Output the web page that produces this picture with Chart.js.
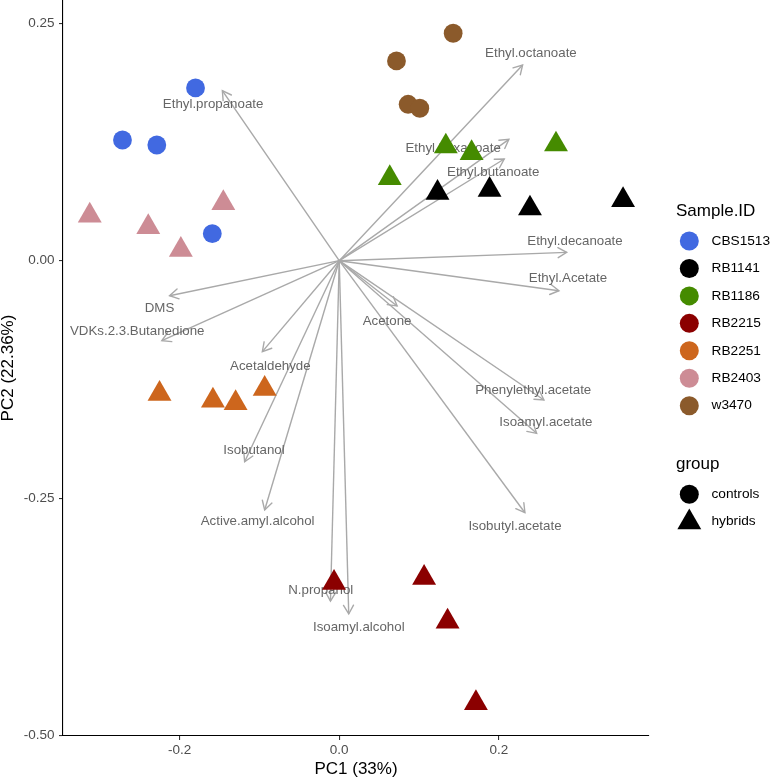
<!DOCTYPE html>
<html>
<head>
<meta charset="utf-8">
<script src="https://cdn.jsdelivr.net/npm/chart.js@4/dist/chart.umd.min.js"></script>
<style>
  body { margin: 0; background: #fff; }
  canvas { display: block; }
</style>
</head>
<body>
<canvas id="pcaChart" width="771" height="781"></canvas>
<script>
// PCA biplot of volatile compounds

// ----------------------------------
// Data
// ----------------------------------
const sampleIds = ["CBS1513", "RB1141", "RB1186", "RB2215", "RB2251", "RB2403", "w3470"];
const sampleGroup = ["controls", "hybrids", "hybrids", "hybrids", "hybrids", "hybrids", "controls"];
const groupNames = ["controls", "hybrids"];

const cbs1513PC1 = [-0.180, -0.2715, -0.2285, -0.159];
const cbs1513PC2 = [0.1819, 0.1271, 0.1218, 0.0284];
const rb1141PC1 = [0.1231, 0.1883, 0.2389, 0.3555];
const rb1141PC2 = [0.0715, 0.0747, 0.0550, 0.0638];
const rb1186PC1 = [0.1335, 0.1658, 0.2715, 0.0633];
const rb1186PC2 = [0.1203, 0.1133, 0.1224, 0.0870];
const rb2215PC1 = [-0.0065, 0.1063, 0.1357, 0.1712];
const rb2215PC2 = [-0.3392, -0.3339, -0.3800, -0.4659];
const rb2251PC1 = [-0.2251, -0.1582, -0.1298, -0.0934];
const rb2251PC2 = [-0.1402, -0.1472, -0.1500, -0.1349];
const rb2403PC1 = [-0.3125, -0.2392, -0.1984, -0.1452];
const rb2403PC2 = [0.0476, 0.0354, 0.0115, 0.0607];
const w3470PC1 = [0.1427, 0.0717, 0.0863, 0.1009];
const w3470PC2 = [0.2395, 0.2103, 0.1647, 0.1605];

const scoresPC1 = [cbs1513PC1, rb1141PC1, rb1186PC1, rb2215PC1, rb2251PC1, rb2403PC1, w3470PC1];
const scoresPC2 = [cbs1513PC2, rb1141PC2, rb1186PC2, rb2215PC2, rb2251PC2, rb2403PC2, w3470PC2];

const variableNames = [
  "Ethyl.propanoate", "DMS", "VDKs.2.3.Butanedione", "Acetaldehyde", "Isobutanol",
  "Active.amyl.alcohol", "N.propanol", "Isoamyl.alcohol", "Ethyl.octanoate", "Ethyl.hexanoate",
  "Ethyl.butanoate", "Ethyl.decanoate", "Ethyl.Acetate", "Acetone", "Phenylethyl.acetate",
  "Isoamyl.acetate", "Isobutyl.acetate"
];
const loadingPC1 = [-0.1464, -0.2125, -0.2222, -0.0963, -0.1185, -0.0934, -0.0110, 0.0119, 0.2297, 0.2125,
  0.2067, 0.2849, 0.2752, 0.0725, 0.2564, 0.2473, 0.2326];
const loadingPC2 = [0.1790, -0.0369, -0.0842, -0.0958, -0.2117, -0.2625, -0.3584, -0.3720, 0.2061, 0.1278,
  0.1071, 0.0088, -0.0316, -0.0477, -0.1467, -0.1818, -0.2654];
const labelPC1 = [-0.1580, -0.2251, -0.2530, -0.0863, -0.1068, -0.1022, -0.0232, 0.0245, 0.2401, 0.1427,
  0.1929, 0.2953, 0.2865, 0.0599, 0.2430, 0.2589, 0.2201];
const labelPC2 = [0.1650, -0.0501, -0.0740, -0.1109, -0.1993, -0.2741, -0.3468, -0.3865, 0.2184, 0.1184,
  0.0931, 0.0207, -0.0185, -0.0635, -0.1362, -0.1702, -0.2801];

const xTickValues = [-0.2, 0, 0.2];
const xTickLabels = ["-0.2", "0.0", "0.2"];
const yTickValues = [-0.5, -0.25, 0, 0.25];
const yTickLabels = ["-0.50", "-0.25", "0.00", "0.25"];

// ----------------------------------
// Styles
// ----------------------------------
const colors = ["#4169E1", "#000000", "#458B00", "#8B0000", "#CD661D", "#CD8C95", "#8B5A2B"];
const arrowColor = "#A9A9A9";
const fontFamily = "'Liberation Sans', Arial, Helvetica, sans-serif";
const circleRadius = 9.4;
const triangleRadius = 13.8;

const shapeFor = g => g === "controls" ? "circle" : "triangle";
const radiusFor = g => g === "controls" ? circleRadius : triangleRadius;

const pointSets = sampleIds.map((id, i) => ({
  label: id,
  data: scoresPC1[i].map((x, j) => ({ x, y: scoresPC2[i][j] })),
  pointStyle: shapeFor(sampleGroup[i]),
  pointRadius: radiusFor(sampleGroup[i]),
  backgroundColor: colors[i],
  borderWidth: 0,
  pointBorderWidth: 0,
  showLine: false,
  order: 0
}));

const arrowSets = variableNames.map((name, i) => ({
  label: name,
  data: [{ x: 0, y: 0 }, { x: loadingPC1[i], y: loadingPC2[i] }],
  showLine: true,
  borderColor: arrowColor,
  borderWidth: 1.4,
  pointRadius: 0,
  order: 1
}));

// arrow heads + variable labels, drawn right after the last arrow shaft
const biplotPlugin = {
  id: "biplot",
  afterDatasetDraw(chart, args) {
    if (args.index !== pointSets.length) return;
    const { ctx, scales: { x, y } } = chart;
    const ox = x.getPixelForValue(0), oy = y.getPixelForValue(0);
    ctx.save();
    ctx.strokeStyle = arrowColor;
    ctx.lineWidth = 1.4;
    ctx.lineCap = "round";
    variableNames.forEach((_, i) => {
      const tx = x.getPixelForValue(loadingPC1[i]);
      const ty = y.getPixelForValue(loadingPC2[i]);
      const ang = Math.atan2(ty - oy, tx - ox);
      const len = 10;
      ctx.beginPath();
      ctx.moveTo(tx - len * Math.cos(ang - Math.PI / 6), ty - len * Math.sin(ang - Math.PI / 6));
      ctx.lineTo(tx, ty);
      ctx.lineTo(tx - len * Math.cos(ang + Math.PI / 6), ty - len * Math.sin(ang + Math.PI / 6));
      ctx.stroke();
    });
    ctx.fillStyle = "#666666";
    ctx.font = "13.3px " + fontFamily;
    ctx.textAlign = "center";
    ctx.textBaseline = "middle";
    variableNames.forEach((name, i) => {
      ctx.fillText(name, x.getPixelForValue(labelPC1[i]), y.getPixelForValue(labelPC2[i]));
    });
    ctx.restore();
  },
  afterDraw(chart) {
    const { ctx } = chart;
    ctx.save();
    ctx.textBaseline = "middle";
    ctx.textAlign = "left";
    ctx.fillStyle = "#000";
    ctx.font = "17px " + fontFamily;
    ctx.fillText("Sample.ID", 676, 211);
    ctx.fillText("group", 676, 464);

    ctx.font = "13.7px " + fontFamily;
    sampleIds.forEach((id, i) => {
      const cy = 241 + i * 27.45;
      ctx.beginPath();
      ctx.fillStyle = colors[i];
      ctx.arc(689.3, cy, 9.5, 0, Math.PI * 2);
      ctx.fill();
      ctx.fillStyle = "#000";
      ctx.fillText(id, 711.5, cy);
    });
    groupNames.forEach((g, i) => {
      const cy = 494.3 + i * 28;
      ctx.fillStyle = "#000";
      ctx.beginPath();
      if (g === "controls") {
        ctx.arc(689.3, cy, 9.5, 0, Math.PI * 2);
      } else {
        const r = 13.8;
        ctx.moveTo(689.3, cy - r);
        ctx.lineTo(689.3 + r * Math.sin(2 * Math.PI / 3), cy + r / 2);
        ctx.lineTo(689.3 - r * Math.sin(2 * Math.PI / 3), cy + r / 2);
        ctx.closePath();
      }
      ctx.fill();
      ctx.fillText(g, 711.5, i === 0 ? cy : cy - 1);
    });
    ctx.restore();
  }
};

// ----------------------------------
// Chart
// ----------------------------------
const tickFont = { family: fontFamily, size: 13.5 };
const titleFont = { family: fontFamily, size: 17, lineHeight: 1 };

new Chart(document.getElementById("pcaChart"), {
  type: "scatter",
  data: { datasets: [...pointSets, ...arrowSets] },
  options: {
    responsive: false,
    devicePixelRatio: 1,
    animation: false,
    layout: { autoPadding: false, padding: { left: 0, right: 122, top: 0, bottom: 0 } },
    plugins: {
      legend: { display: false },
      tooltip: { enabled: false }
    },
    scales: {
      x: {
        type: "linear",
        min: -0.346,
        max: 0.388,
        afterBuildTicks: s => { s.ticks = xTickValues.map(v => ({ value: v })); },
        afterFit: s => { s.height = 45; s.paddingLeft = 0; s.paddingRight = 0; },
        ticks: {
          font: tickFont,
          color: "#4D4D4D",
          padding: 2,
          callback: (v, i) => xTickLabels[i]
        },
        grid: { drawOnChartArea: false, drawTicks: true, tickLength: 4, color: "#333333", lineWidth: 1.1 },
        border: { display: true, color: "#000000", width: 1.1 },
        title: { display: true, text: "PC1 (33%)", color: "#000", font: titleFont, padding: { top: 0, bottom: 3.5 } }
      },
      y: {
        type: "linear",
        min: -0.5005,
        max: 0.2745,
        afterBuildTicks: s => { s.ticks = yTickValues.map(v => ({ value: v })); },
        afterFit: s => { s.width = 63; s.paddingTop = 0; s.paddingBottom = 0; },
        ticks: {
          font: tickFont,
          color: "#4D4D4D",
          padding: 4.5,
          callback: (v, i) => yTickLabels[i]
        },
        grid: { drawOnChartArea: false, drawTicks: true, tickLength: 4, color: "#333333", lineWidth: 1.1 },
        border: { display: true, color: "#000000", width: 1.1 },
        title: { display: true, text: "PC2 (22.36%)", color: "#000", font: titleFont, padding: { top: 0, bottom: 0 } }
      }
    }
  },
  plugins: [biplotPlugin]
});
</script>
</body>
</html>
